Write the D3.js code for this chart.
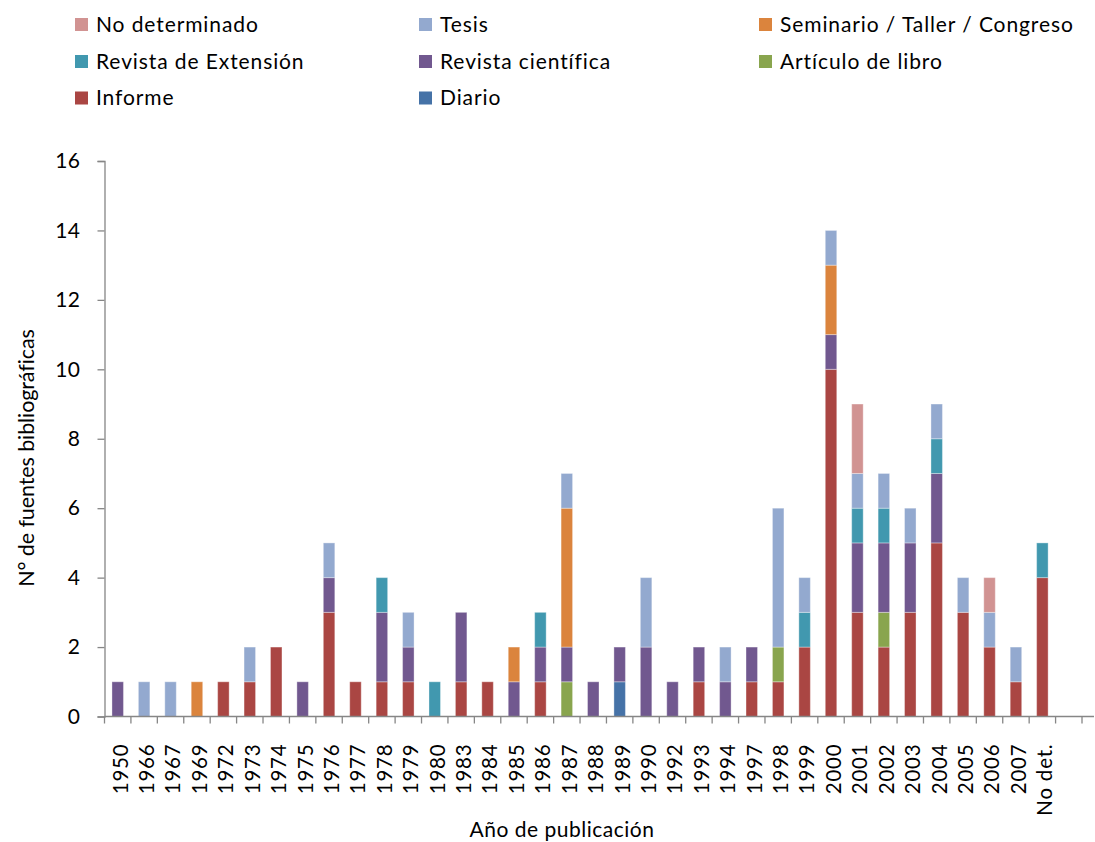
<!DOCTYPE html>
<html>
<head>
<meta charset="utf-8">
<script src="https://cdn.jsdelivr.net/npm/d3@7"></script>
<style>
  html, body { margin: 0; padding: 0; background: #fff; }
  svg { display: block; font-family: Lato, "Open Sans", sans-serif; }
</style>
</head>
<body>
<svg id="chart" width="1095" height="842"></svg>
<script>
const categories = ["1950","1966","1967","1969","1972","1973","1974","1975","1976","1977","1978","1979","1980","1983","1984","1985","1986","1987","1988","1989","1990","1992","1993","1994","1997","1998","1999","2000","2001","2002","2003","2004","2005","2006","2007","No det.",""];

const informe      = [0,0,0,0,1,1,2,0,3,1,1,1,0,1,1,0,1,0,0,0,0,0,1,0,1,1,2,10,3,2,3,5,3,2,1,4,0];
const diario       = [0,0,0,0,0,0,0,0,0,0,0,0,0,0,0,0,0,0,0,1,0,0,0,0,0,0,0,0,0,0,0,0,0,0,0,0,0];
const articulo     = [0,0,0,0,0,0,0,0,0,0,0,0,0,0,0,0,0,1,0,0,0,0,0,0,0,1,0,0,0,1,0,0,0,0,0,0,0];
const revCientifica= [1,0,0,0,0,0,0,1,1,0,2,1,0,2,0,1,1,1,1,1,2,1,1,1,1,0,0,1,2,2,2,2,0,0,0,0,0];
const revExtension = [0,0,0,0,0,0,0,0,0,0,1,0,1,0,0,0,1,0,0,0,0,0,0,0,0,0,1,0,1,1,0,1,0,0,0,1,0];
const seminario    = [0,0,0,1,0,0,0,0,0,0,0,0,0,0,0,1,0,4,0,0,0,0,0,0,0,0,0,2,0,0,0,0,0,0,0,0,0];
const tesis        = [0,1,1,0,0,1,0,0,1,0,0,1,0,0,0,0,0,1,0,0,2,0,0,1,0,4,1,1,1,1,1,1,1,1,1,0,0];
const noDeterminado= [0,0,0,0,0,0,0,0,0,0,0,0,0,0,0,0,0,0,0,0,0,0,0,0,0,0,0,0,2,0,0,0,0,1,0,0,0];

const seriesNames = ["Informe","Diario","Artículo de libro","Revista científica","Revista de Extensión","Seminario / Taller / Congreso","Tesis","No determinado"];
const seriesValues = [informe, diario, articulo, revCientifica, revExtension, seminario, tesis, noDeterminado];
const seriesColors = ["#AA4643","#4572A7","#89A54E","#71588F","#4198AF","#DB843D","#93A9CF","#D19392"];
const legendOrder = ["No determinado","Tesis","Seminario / Taller / Congreso","Revista de Extensión","Revista científica","Artículo de libro","Informe","Diario"];
const yTicks = [0,2,4,6,8,10,12,14,16];
const yTitle = "N° de fuentes bibliográficas";
const xTitle = "Año de publicación";

(function () {
const svg = d3.select("#chart");
const pLeft = 104.5, pRight = 1082, pTop = 161, pBottom = 716.5;

const rows = categories.map((c, i) => {
  const o = { cat: c };
  seriesNames.forEach((s, j) => { o[s] = seriesValues[j][i]; });
  return o;
});

const x = d3.scaleBand().domain(categories).range([pLeft, pRight]).paddingInner(0.565).paddingOuter(0.2825);
const y = d3.scaleLinear().domain([0, 16]).range([pBottom, pTop]);
const color = d3.scaleOrdinal().domain(seriesNames).range(seriesColors);

const stacked = d3.stack().keys(seriesNames)(rows);

// bars
svg.append("g").selectAll("g").data(stacked).join("g")
  .attr("fill", d => color(d.key))
  .selectAll("rect").data(d => d.filter(p => p[1] - p[0] > 0)).join("rect")
  .attr("x", d => x(d.data.cat))
  .attr("width", x.bandwidth())
  .attr("y", d => y(d[1]))
  .attr("height", d => y(d[0]) - y(d[1]))
  .attr("stroke", "#ffffff")
  .attr("stroke-opacity", 0.35)
  .attr("stroke-width", 1);

// y axis
const yAxis = svg.append("g").attr("transform", `translate(${pLeft},0)`)
  .call(d3.axisLeft(y).tickValues(yTicks).tickSize(7).tickPadding(17));
yAxis.select(".domain").attr("stroke", "#868686").attr("stroke-width", 1.3);
yAxis.selectAll(".tick line").attr("stroke", "#868686").attr("stroke-width", 1.3);
yAxis.selectAll(".tick text").attr("font-size", 21).attr("letter-spacing", "0.5px")
  .attr("font-family", "Lato").attr("fill", "#000");

// x axis
const xAxis = svg.append("g").attr("transform", `translate(0,${pBottom})`)
  .call(d3.axisBottom(x).tickSize(0).tickPadding(0));
xAxis.select(".domain").attr("stroke", "#868686").attr("stroke-width", 1.3)
  .attr("d", `M${pLeft},0H1094`);
xAxis.selectAll(".tick text")
  .attr("font-size", 20.5).attr("letter-spacing", "0.8px")
  .attr("font-family", "Lato").attr("fill", "#000")
  .attr("text-anchor", "end")
  .attr("transform", "rotate(-90)")
  .attr("x", -27).attr("y", 2.5).attr("dy", "0.36em");
const boundaries = d3.range(categories.length + 1).map(i => x.range()[0] + i * x.step());
xAxis.selectAll(".bt").data(boundaries).join("line")
  .attr("x1", d => d).attr("x2", d => d).attr("y1", 0).attr("y2", 7)
  .attr("stroke", "#868686").attr("stroke-width", 1.3);

// titles
svg.append("text").attr("transform", `translate(26,458) rotate(-90)`)
  .attr("text-anchor", "middle").attr("dy", "0.35em")
  .attr("font-size", 21.5).attr("letter-spacing", "-0.1px").attr("fill", "#000").text(yTitle);
svg.append("text").attr("x", 562).attr("y", 830)
  .attr("text-anchor", "middle").attr("dy", "0.35em")
  .attr("font-size", 21).attr("letter-spacing", "0.5px").attr("fill", "#000").text(xTitle);

// legend
const colX = [75, 419, 759];
const rowY = [24.5, 61.5, 98];
const lg = svg.append("g").selectAll("g").data(legendOrder).join("g")
  .attr("transform", (d, i) => `translate(${colX[i % 3]},${rowY[Math.floor(i / 3)]})`);
lg.append("rect").attr("x", 0).attr("y", -6.5).attr("width", 13).attr("height", 13).attr("fill", d => color(d));
lg.append("text").attr("x", 21).attr("y", 0).attr("dy", "0.35em")
  .attr("font-size", 21).attr("letter-spacing", "0.9px").attr("fill", "#000").text(d => d);
})();
</script>
</body>
</html>
